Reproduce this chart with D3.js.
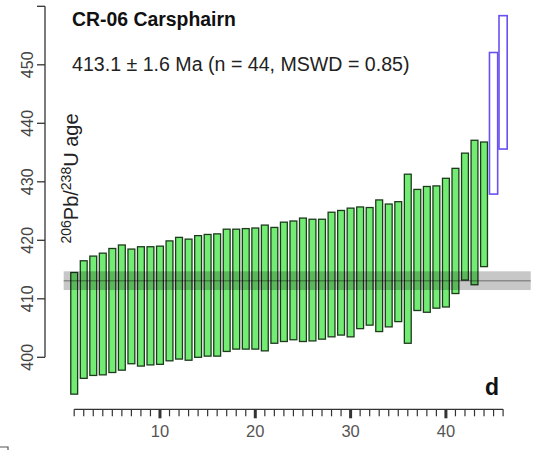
<!DOCTYPE html>
<meta charset="utf-8">
<head>
  <title>Weighted mean plot</title>
  <script src="https://d3js.org/d3.v7.min.js"></script>
  <style>
    body { margin: 0; background: #fff; font-family: Arial, "Liberation Sans", sans-serif; }
  </style>
</head>
<body>
<div id="my_dataviz"></div>
<script>
  // 206Pb/238U ages (Ma), lower and upper limit of each error bar, sorted
  const lower = [393.7, 396.4, 396.9, 397.0, 397.4, 397.8, 398.9, 398.5, 398.7, 398.8,
                 399.4, 399.7, 399.5, 400.0, 400.2, 400.2, 401.0, 401.4, 401.4, 401.4,
                 401.1, 402.4, 402.7, 403.0, 402.7, 402.8, 403.1, 403.5, 403.8, 403.5,
                 404.9, 405.5, 404.4, 405.2, 406.1, 402.4, 408.0, 407.7, 408.4, 408.6,
                 410.9, 413.2, 412.4, 415.5, 427.9, 435.6];
  const upper = [414.5, 416.5, 417.3, 417.8, 418.6, 419.2, 418.5, 418.9, 418.9, 419.0,
                 419.9, 420.5, 420.2, 420.8, 421.0, 421.1, 421.9, 421.9, 422.0, 422.1,
                 422.6, 422.2, 423.1, 423.3, 423.8, 423.6, 423.6, 424.8, 425.1, 425.5,
                 425.7, 425.6, 426.9, 426.2, 426.6, 431.3, 428.7, 429.2, 429.3, 430.6,
                 432.3, 434.9, 437.1, 436.8, 452.1, 458.4];
  const rejected = [45, 46];   // analyses left out of the mean
  const meanAge = 413.1, meanErr = 1.6;
  const yTicks = [400, 410, 420, 430, 440, 450, 460];
  const yLabels = [400, 410, 420, 430, 440, 450];
  const xTicks = [10, 20, 30, 40];
  const title = "CR-06 Carsphairn";
  const subtitle = "413.1 \u00b1 1.6 Ma (n = 44, MSWD = 0.85)";

  const width = 534, height = 450;

  const data = lower.map(function(d, i) {
    return {n: i + 1, lo: d, hi: upper[i], out: rejected.indexOf(i + 1) >= 0};
  });

  var svg = d3.select("#my_dataviz")
    .append("svg")
      .attr("width", width)
      .attr("height", height);

  // scales
  var x = d3.scaleLinear().domain([1, 46]).range([74.2, 503.1]);
  var y = d3.scaleLinear().domain([400, 460]).range([357.3, 6.3]);
  var step = x(2) - x(1);

  // bars
  svg.append("g")
    .selectAll("rect")
    .data(data)
    .enter()
    .append("rect")
      .attr("x", function(d) { return x(d.n) - (d.out ? 0.43 : 0.36) * step; })
      .attr("width", function(d) { return (d.out ? 0.86 : 0.72) * step; })
      .attr("y", function(d) { return y(d.hi); })
      .attr("height", function(d) { return y(d.lo) - y(d.hi); })
      .attr("fill", function(d) { return d.out ? "#fff" : "#72ec72"; })
      .attr("stroke", function(d) { return d.out ? "#6a50f0" : "#1d3a1d"; })
      .attr("stroke-width", function(d) { return d.out ? 1.6 : 1.3; });

  // weighted mean band, drawn over the bars
  var bandLeft = x(0) - 1, bandRight = x(48.9);
  svg.append("rect")
    .attr("x", bandLeft)
    .attr("width", bandRight - bandLeft)
    .attr("y", y(meanAge + meanErr))
    .attr("height", y(meanAge - meanErr) - y(meanAge + meanErr))
    .attr("fill", "#000")
    .attr("fill-opacity", 0.22);
  svg.append("line")
    .attr("x1", bandLeft).attr("x2", bandRight)
    .attr("y1", y(meanAge)).attr("y2", y(meanAge))
    .attr("stroke", "#000")
    .attr("stroke-opacity", 0.3)
    .attr("stroke-width", 1.5);

  // y axis
  var gy = svg.append("g").attr("transform", "translate(45,0)");
  gy.append("line")
    .attr("y1", y(400)).attr("y2", y(460))
    .attr("stroke", "#333").attr("stroke-width", 1.3);
  gy.selectAll(".tick")
    .data(yTicks).enter().append("line")
      .attr("x1", 0).attr("x2", -8)
      .attr("y1", function(d) { return y(d); })
      .attr("y2", function(d) { return y(d); })
      .attr("stroke", "#333").attr("stroke-width", 1.3);
  gy.selectAll("text")
    .data(yLabels).enter().append("text")
      .attr("transform", function(d) { return "translate(-12," + y(d) + ") rotate(-90)"; })
      .attr("text-anchor", "middle")
      .style("font-size", "16px")
      .attr("fill", "#444")
      .text(function(d) { return d; });

  // y axis title 206Pb/238U age
  var yt = svg.append("text")
    .attr("transform", "translate(78,178.5) rotate(-90)")
    .attr("text-anchor", "middle")
    .attr("fill", "#222")
    .style("font-size", "20px");
  yt.append("tspan").attr("dy", -7).style("font-size", "14px").text("206");
  yt.append("tspan").attr("dy", 7).text("Pb/");
  yt.append("tspan").attr("dy", -7).style("font-size", "14px").text("238");
  yt.append("tspan").attr("dy", 7).text("U age");

  // x axis
  var gx = svg.append("g").attr("transform", "translate(0,409.3)");
  gx.append("line")
    .attr("x1", x(1)).attr("x2", x(46))
    .attr("stroke", "#333").attr("stroke-width", 1.3);
  gx.selectAll(".minor")
    .data(data).enter().append("line")
      .attr("x1", function(d) { return x(d.n); })
      .attr("x2", function(d) { return x(d.n); })
      .attr("y1", 0)
      .attr("y2", function(d) { return xTicks.indexOf(d.n) >= 0 ? 9 : 7; })
      .attr("stroke", "#333")
      .attr("stroke-width", function(d) { return xTicks.indexOf(d.n) >= 0 ? 3 : 1.2; });
  gx.selectAll("text")
    .data(xTicks).enter().append("text")
      .attr("x", function(d) { return x(d); })
      .attr("y", 28)
      .attr("text-anchor", "middle")
      .style("font-size", "16.5px")
      .attr("fill", "#555")
      .text(function(d) { return d; });

  // titles
  svg.append("text")
    .attr("x", 72).attr("y", 26)
    .style("font-size", "19.4px").style("font-weight", "bold")
    .attr("fill", "#111")
    .text(title);
  svg.append("text")
    .attr("x", 72).attr("y", 70.5)
    .style("font-size", "19.6px")
    .attr("fill", "#222")
    .text(subtitle);

  // panel letter
  svg.append("text")
    .attr("x", 499).attr("y", 395)
    .attr("text-anchor", "end")
    .style("font-size", "23px").style("font-weight", "bold")
    .attr("fill", "#111")
    .text("d");

  // corner of a neighbouring frame, bottom left
  svg.append("path")
    .attr("d", "M-2,447 H8 V460")
    .attr("fill", "none").attr("stroke", "#555").attr("stroke-width", 1.2);
</script>
</body>
